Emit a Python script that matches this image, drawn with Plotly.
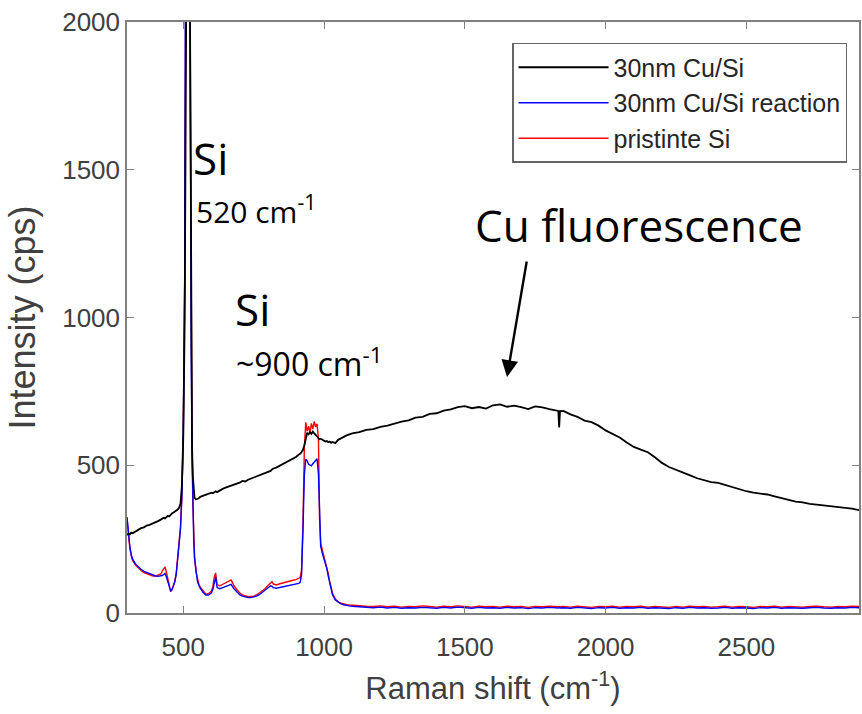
import plotly.graph_objects as go

# ---------------- data ----------------
wn_low = [300, 305, 310, 315, 320, 330, 340, 350, 360, 370,
          380, 390, 400, 410, 420, 425, 430, 435, 440, 445,
          450, 455, 460, 465, 470, 475, 480, 485, 490, 495,
          500, 505, 510, 513, 516, 519, 522, 525, 528, 531,
          534, 537, 540, 545, 550, 555, 560, 570, 580, 590,
          600, 605, 610, 615, 620, 630, 640, 650, 660, 670,
          680, 690, 700, 710, 720, 730, 740, 750, 760, 770,
          780, 790, 800, 810, 815, 820, 830, 840, 850, 860,
          870, 880, 890, 900, 910, 915, 920, 925, 930, 935,
          940, 945, 950, 955, 960, 965, 970, 975, 980, 984,
          988, 995, 1000, 1005, 1010, 1015, 1020, 1025, 1030, 1040,
          1050, 1060, 1070, 1080, 1090, 1100]

cu_low = [264, 268, 266, 272, 270, 276, 283, 287, 290, 296,
          298, 302, 305, 311, 316, 318, 322, 320, 325, 329,
          327, 333, 337, 340, 343, 347, 350, 356, 370, 430,
          600, 1000, 1800, 2600, 3600, 3000, 2000, 1300, 800, 560,
          460, 410, 390, 384, 386, 388, 393, 396, 401, 404,
          407, 405, 410, 412, 409, 416, 420, 424, 427, 432,
          434, 438, 441, 447, 445, 451, 455, 458, 462, 466,
          470, 474, 478, 481, 486, 489, 492, 497, 502, 507,
          514, 518, 524, 528, 536, 539, 545, 552, 568, 595,
          610, 605, 612, 606, 614, 608, 604, 598, 592, 588,
          590, 586, 583, 580, 582, 578, 580, 576, 579, 575,
          586, 592, 596, 601, 604, 608]

rx_low = [325, 265, 225, 198, 182, 166, 156, 148, 141, 137,
          134, 129, 126, 124, 125, 127, 130, 134, 122, 106,
          89, 75, 79, 92, 106, 132, 190, 232, 285, 395,
          610, 1120, 2550, 4100, 5600, 4600, 2800, 1650, 920, 550,
          360, 245, 185, 136, 108, 94, 84, 70, 61, 61,
          68, 80, 108, 122, 86, 82, 86, 90, 95, 97,
          82, 70, 62, 57, 54, 52, 52, 54, 57, 62,
          70, 76, 84, 92, 90, 86, 84, 86, 88, 89,
          91, 93, 95, 97, 100, 104, 130, 280, 470, 520,
          515, 503, 500, 498, 505, 512, 516, 522, 470, 300,
          225, 198, 182, 168, 150, 124, 100, 78, 62, 44,
          36, 31, 28, 25, 24, 23]

si_low = [320, 260, 220, 194, 178, 162, 152, 144, 137, 133,
          130, 126, 124, 127, 132, 141, 149, 156, 138, 114,
          90, 72, 79, 93, 108, 136, 200, 240, 292, 402,
          625, 1150, 2600, 4200, 5800, 4800, 2900, 1700, 950, 560,
          370, 250, 190, 140, 112, 98, 88, 74, 64, 66,
          74, 90, 122, 135, 96, 92, 97, 102, 108, 112,
          92, 78, 68, 61, 58, 55, 56, 57, 61, 67,
          74, 82, 92, 103, 106, 98, 95, 98, 101, 103,
          106, 108, 111, 113, 116, 120, 145, 300, 560, 645,
          615, 632, 610, 642, 622, 648, 630, 640, 590, 320,
          235, 208, 192, 176, 160, 132, 106, 83, 66, 47,
          38, 33, 30, 28, 27, 26]

wn_high = [1125, 1150, 1175, 1200, 1225, 1250, 1275, 1300, 1325, 1350,
           1375, 1400, 1425, 1450, 1475, 1500, 1525, 1550, 1575, 1600,
           1625, 1650, 1675, 1700, 1725, 1750, 1775, 1800, 1825,
           1832, 1835, 1838,
           1850, 1875, 1900, 1925, 1950, 1975, 2000, 2025, 2050, 2075,
           2100, 2125, 2150, 2175, 2200, 2225, 2250, 2275, 2300, 2325,
           2350, 2375, 2400, 2425, 2450, 2475, 2500, 2525, 2550, 2575,
           2600, 2625, 2650, 2675, 2700, 2725, 2750, 2775, 2800, 2825,
           2850, 2875, 2900]

cu_high = [612, 620, 622, 630, 634, 642, 648, 652, 661, 664,
           674, 676, 685, 689, 697, 700, 693, 697, 692, 703,
           706, 698, 702, 697, 690, 699, 696, 690, 686,
           684, 628, 683,
           684, 672, 664, 651, 646, 634, 618, 606, 594, 577,
           562, 553, 544, 527, 508, 494, 485, 477, 466, 456,
           450, 443, 440, 433, 426, 418, 412, 407, 404, 401,
           395, 389, 382, 377, 374, 369, 367, 364, 362, 358,
           357, 353, 348]

rx_high = [22, 19, 18, 20, 17, 19, 16, 18, 17, 19,
           18, 16, 19, 17, 20, 18, 16, 19, 17, 18,
           16, 19, 17, 18, 15, 18, 17, 19, 16,
           17, 18, 17,
           18, 16, 19, 17, 15, 18, 17, 19, 16, 18,
           17, 19, 16, 18, 17, 15, 18, 16, 19, 17,
           18, 16, 17, 19, 16, 18, 17, 15, 18, 17,
           19, 16, 18, 17, 16, 18, 19, 17, 16, 18,
           17, 19, 18]

si_high = [25, 23, 22, 24, 21, 23, 20, 22, 21, 24,
           22, 20, 23, 21, 24, 22, 20, 23, 21, 22,
           20, 23, 21, 22, 19, 22, 21, 23, 20,
           21, 22, 21,
           22, 20, 23, 21, 19, 22, 21, 23, 20, 22,
           21, 23, 20, 22, 21, 19, 22, 20, 23, 21,
           22, 20, 21, 23, 20, 22, 21, 19, 22, 21,
           23, 20, 22, 21, 20, 22, 23, 21, 20, 22,
           21, 23, 22]

series_names = ["30nm Cu/Si", "30nm Cu/Si reaction", "pristinte Si"]
x_ticks = [500, 1000, 1500, 2000, 2500]
y_ticks = [0, 500, 1000, 1500, 2000]

wavenumber = wn_low + wn_high
cu_si = cu_low + cu_high
cu_si_reaction = rx_low + rx_high
pristine_si = si_low + si_high
assert len(wavenumber) == len(cu_si) == len(cu_si_reaction) == len(pristine_si)

# ---------------- figure ----------------
AX = "#808080"
TXT = "#404040"
FONT = "Liberation Sans, Arial, sans-serif"

fig = go.Figure()
# drawn red first, then blue, black on top; legend reversed to show black, blue, red
fig.add_trace(go.Scatter(x=wavenumber, y=pristine_si, mode="lines", name=series_names[2],
                         line=dict(color="#ff0000", width=1.4)))
fig.add_trace(go.Scatter(x=wavenumber, y=cu_si_reaction, mode="lines", name=series_names[1],
                         line=dict(color="#0000ff", width=1.4)))
fig.add_trace(go.Scatter(x=wavenumber, y=cu_si, mode="lines", name=series_names[0],
                         line=dict(color="#000000", width=1.8)))

axis_common = dict(showline=True, linecolor=AX, linewidth=1.5, mirror="ticks",
                   ticks="inside", ticklen=7, tickcolor=AX, tickwidth=1.2,
                   showgrid=False, zeroline=False,
                   tickfont=dict(family=FONT, size=26, color=TXT))

fig.update_xaxes(range=[300, 2900], tickvals=x_ticks, ticklabelstandoff=10,
                 title=dict(text="Raman shift (cm<sup>-1</sup>)",
                            font=dict(family=FONT, size=31, color=TXT), standoff=16),
                 **axis_common)
fig.update_yaxes(range=[0, 2000], tickvals=y_ticks,
                 title=dict(text="Intensity (cps)",
                            font=dict(family=FONT, size=36, color=TXT), standoff=16),
                 **axis_common)

ANN = "Open Sans, sans-serif"
annotations = [
    dict(text="Si", x=0.0872, y=0.7157, size=44),
    dict(text="520 cm<sup>-1</sup>", x=0.0913, y=0.6413, size=30),
    dict(text="Si", x=0.1444, y=0.4602, size=44),
    dict(text="~900 cm<sup>-1</sup>", x=0.1458, y=0.3824, size=32),
    dict(text="Cu fluorescence", x=0.4728, y=0.6030, size=44),
]
for a in annotations:
    fig.add_annotation(text=a["text"], x=a["x"], y=a["y"], xref="paper", yref="paper",
                       xanchor="left", yanchor="bottom", showarrow=False,
                       font=dict(family=ANN, size=a["size"], color="#000000"))
fig.add_annotation(text="", x=0.5191, y=0.3993, xref="paper", yref="paper",
                   ax=20, ay=-117, showarrow=True, arrowhead=2, arrowsize=1.4,
                   arrowwidth=2.4, arrowcolor="#000000")

fig.update_layout(
    width=862, height=714,
    margin=dict(l=127, r=1, t=22, b=101),
    paper_bgcolor="white", plot_bgcolor="white",
    showlegend=True,
    legend=dict(x=0.526, y=0.9645, xanchor="left", yanchor="top",
                traceorder="reversed", bgcolor="white",
                bordercolor="#666666", borderwidth=1.5,
                itemwidth=90, tracegroupgap=0,
                font=dict(family=FONT, size=25, color="#262626")),
)

fig.write_html("out.html")
